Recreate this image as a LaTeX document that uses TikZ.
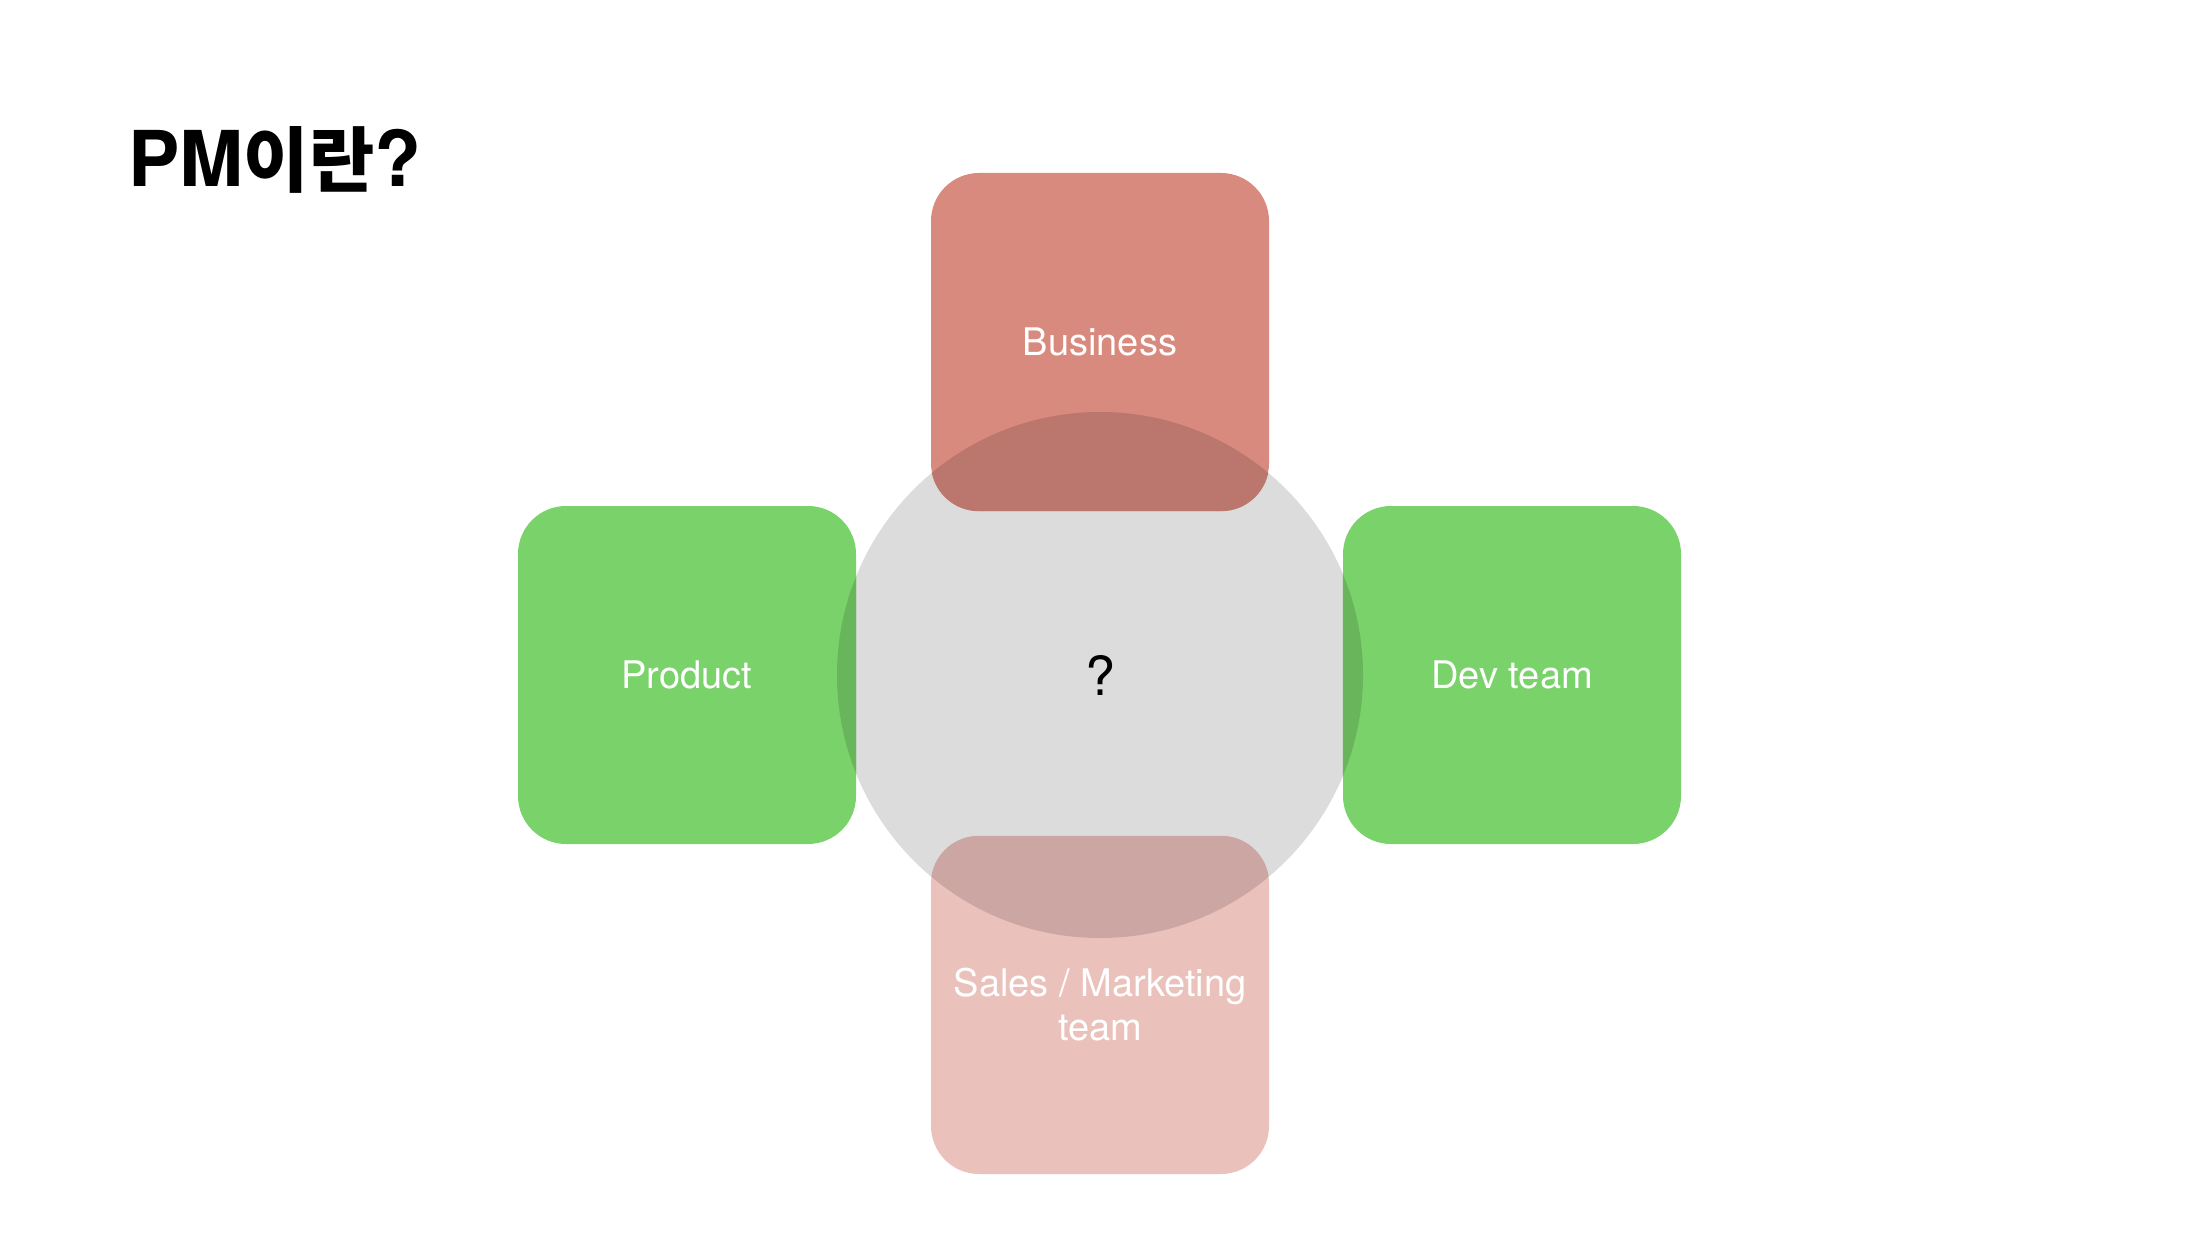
\documentclass[tikz,border=0pt]{standalone}
\usepackage{fontspec}
\setsansfont{TeX Gyre Heros}
\newfontfamily\hangul{Noto Sans CJK KR}
\usepackage{tikz}
\usetikzlibrary{positioning, calc}
\usepackage{xcolor}
\definecolor{bizred}{HTML}{D98A7E}
\definecolor{bizdark}{HTML}{BB776D}
\definecolor{teamgreen}{HTML}{7AD26B}
\definecolor{teamdark}{HTML}{69B55C}
\definecolor{salespink}{HTML}{EBC1BC}
\definecolor{salesdark}{HTML}{CBA6A2}
\definecolor{hubgray}{HTML}{DCDCDC}

\begin{document}
\begin{tikzpicture}[
    x=1pt, y=-1pt,
    hub/.style={circle, fill=hubgray, minimum size=526pt, inner sep=0pt, font=\sffamily\fontsize{54}{60}\selectfont},
    tile/.style={rectangle, rounded corners=48pt, minimum width=338pt, minimum height=338pt, inner sep=0pt, text=white, align=center, font=\sffamily\fontsize{38}{44}\selectfont},
    overlap/.style={rounded corners=48pt},
    heading/.style={anchor=base west, inner sep=0pt, font=\sffamily\bfseries\fontsize{77}{80}\selectfont}
]
\useasboundingbox (0,0) rectangle (2200,1238);

\node[heading] (title) at (128,187) {PM{\hangul\bfseries\fontsize{71}{80}\selectfont 이란}?};

\node[hub] (hub) at (1100,675) {?};
\node[tile, fill=bizred] (business) at (1100,342) {Business};
\node[tile, fill=teamgreen] (product) at (687,675) {Product};
\node[tile, fill=teamgreen] (dev) at (1512,675) {Dev team};
\node[tile, fill=salespink] (sales) at (1100,1005) {Sales / Marketing\\team};

\begin{scope}
\clip (hub.center) circle[radius=263pt];
\fill[overlap, bizdark] (business.south west) rectangle (business.north east);
\fill[overlap, teamdark] (product.south west) rectangle (product.north east);
\fill[overlap, teamdark] (dev.south west) rectangle (dev.north east);
\fill[overlap, salesdark] (sales.south west) rectangle (sales.north east);
\end{scope}

\end{tikzpicture}
\end{document}
